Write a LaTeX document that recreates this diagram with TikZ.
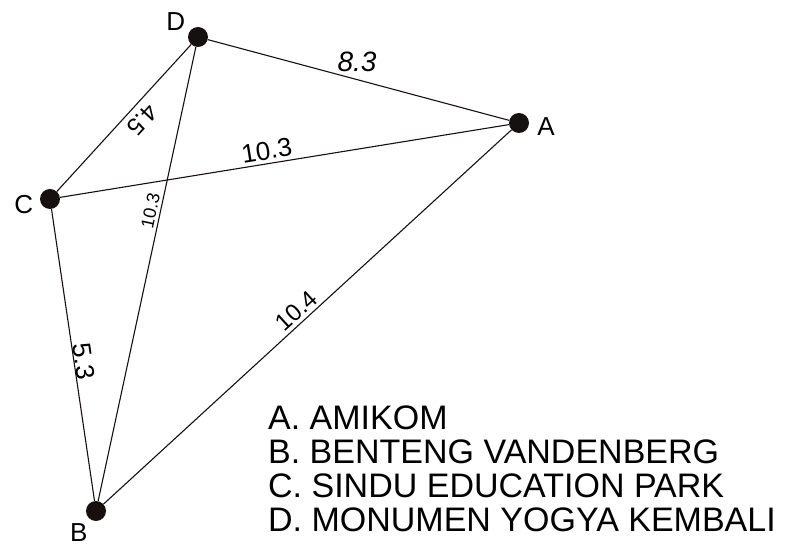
\documentclass[tikz,border=0pt]{standalone}
\usepackage{fontspec}
\setmainfont{Liberation Sans}
\usepackage{tikz}
\usetikzlibrary{positioning}
\definecolor{siteblack}{HTML}{161010}

\begin{document}
\begin{tikzpicture}[
    x=1pt, y=-1pt,
    site_node/.style={circle, fill=siteblack, inner sep=0pt, minimum size=20pt},
    site_label/.style={inner sep=0pt, font=\fontsize{26}{30}\selectfont},
    dist_label/.style={inner sep=0pt, font=\fontsize{26}{30}\selectfont},
    legend_node/.style={inner sep=0pt, anchor=base west, font=\fontsize{34}{36}\selectfont},
    road/.style={draw=siteblack, line width=1.1pt}
]
\useasboundingbox (0,0) rectangle (807,545);

% Sites
\node[site_node] (a) at (519,123) {};
\node[site_node] (b) at (96,511) {};
\node[site_node] (c) at (50,199) {};
\node[site_node] (d) at (198,37) {};

\node[site_label, right=8pt of a, yshift=-4pt] (alabel) {A};
\node[site_label, below left=5pt and 1pt of b] (blabel) {B};
\node[site_label, left=6.5pt of c, yshift=-6pt] (clabel) {C};
\node[site_label, above left=-1pt and 5.5pt of d] (dlabel) {D};

% Distances
\draw[road] (d) -- node[dist_label, pos=0.495, above=7pt, font=\fontsize{28}{30}\selectfont\itshape] (dalabel) {8.3} (a);
\draw[road] (d) -- node[dist_label, pos=0.445, sloped, allow upside down, above=6pt, font=\fontsize{24}{30}\selectfont] (dclabel) {4.5} (c);
\draw[road] (c) -- node[dist_label, pos=0.465, sloped, above=3.5pt] (calabel) {10.3} (a);
\draw[road] (b) -- node[dist_label, pos=0.635, sloped, above=3pt, font=\fontsize{18}{20}\selectfont] (bdlabel) {10.3} (d);
\draw[road] (c) -- node[dist_label, pos=0.526, sloped, above=0pt] (cblabel) {5.3} (b);
\draw[road] (b) -- node[dist_label, pos=0.492, sloped, above=3pt, font=\fontsize{24}{30}\selectfont] (balabel) {10.4} (a);

% Legend
\node[legend_node] (lega) at (268,430) {A. AMIKOM};
\node[legend_node] (legb) at (268,464) {B. BENTENG VANDENBERG};
\node[legend_node] (legc) at (268,498) {C. SINDU EDUCATION PARK};
\node[legend_node] (legd) at (268,532) {D. MONUMEN YOGYA KEMBALI};

\end{tikzpicture}
\end{document}
